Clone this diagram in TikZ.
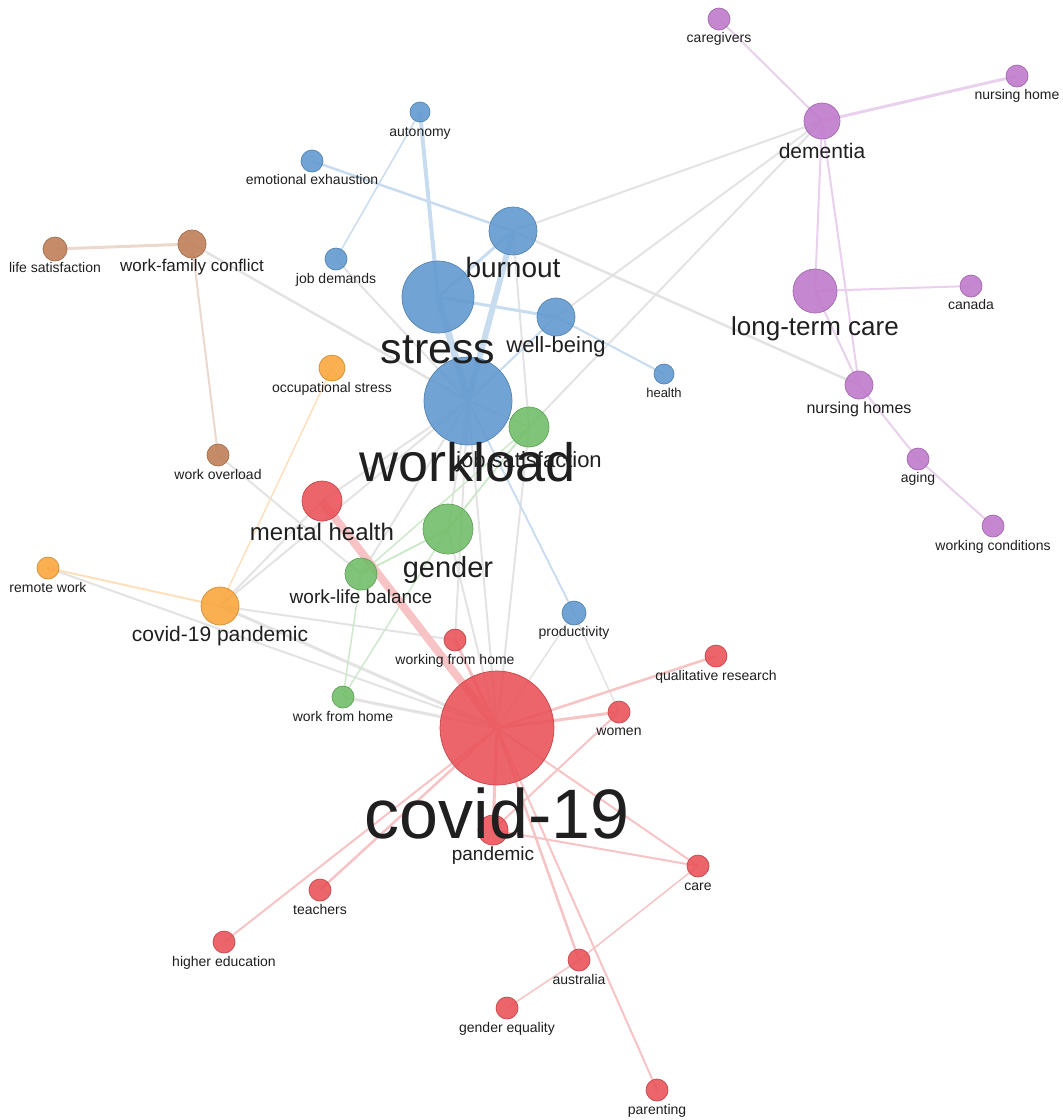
\documentclass[tikz,border=0pt]{standalone}
\usepackage{fontspec}
\setmainfont{Liberation Sans}
\definecolor{cblue}{RGB}{98,154,208}
\definecolor{cgreen}{RGB}{114,190,106}
\definecolor{corange}{RGB}{250,166,62}
\definecolor{cbrown}{RGB}{192,128,90}
\definecolor{cred}{RGB}{233,84,90}
\definecolor{cpurple}{RGB}{192,122,204}
\pgfdeclarelayer{edges}\pgfdeclarelayer{labels}
\pgfsetlayers{edges,main,labels}
\tikzset{kw/.style={circle,inner sep=0pt,draw=#1!85!black,line width=.7pt,fill=#1,fill opacity=.9},
 blu/.style={kw=cblue},grn/.style={kw=cgreen},org/.style={kw=corange},
 brn/.style={kw=cbrown},rd/.style={kw=cred},pur/.style={kw=cpurple},
 lab/.style={anchor=base,inner sep=0pt,text=black!88},
 lk/.style={draw=black!11},lkb/.style={draw=cblue!35},lkg/.style={draw=cgreen!35},
 lko/.style={draw=corange!35},lkn/.style={draw=cbrown!30},lkr/.style={draw=cred!35},
 lkp/.style={draw=cpurple!35}}

\begin{document}
\begin{tikzpicture}[x=1pt,y=-1pt]
\useasboundingbox (0,0) rectangle (1063,1120);
% clusters: name/x/y/radius/font size/label baseline/text
\foreach \n/\x/\y/\r/\fs/\ly/\t in {jsat/529/427/20/22/467/job satisfaction,
 gen/448/529/25/29/577/gender,wlb/361/574/16/19/603/work-life balance,
 wfh/343/697/11/14/721/work from home}{
 \node[grn,minimum size=2*\r pt](\n) at (\x,\y){};
 \begin{pgfonlayer}{labels}\node[lab,font=\fontsize{\fs}{\fs}\selectfont](\n-t) at (\x,\ly){\t};\end{pgfonlayer}}
\foreach \n/\x/\y/\r/\fs/\ly/\t in {occ/332/368/13/14/392/occupational stress,
 rem/48/568/11/14/592/remote work,cpan/220/606/19/21/641/covid-19 pandemic}{
 \node[org,minimum size=2*\r pt](\n) at (\x,\y){};
 \begin{pgfonlayer}{labels}\node[lab,font=\fontsize{\fs}{\fs}\selectfont](\n-t) at (\x,\ly){\t};\end{pgfonlayer}}
\foreach \n/\x/\y/\r/\fs/\ly/\t in {life/55/249/12/14/272/life satisfaction,
 wfc/192/244/14/17/271/work-family conflict,wov/218/455/11/14/479/work overload}{
 \node[brn,minimum size=2*\r pt](\n) at (\x,\y){};
 \begin{pgfonlayer}{labels}\node[lab,font=\fontsize{\fs}{\fs}\selectfont](\n-t) at (\x,\ly){\t};\end{pgfonlayer}}
\foreach \n/\x/\y/\r/\fs/\ly/\t in {cgv/719/19/11/14/42/caregivers,
 nhome/1017/76/11/14/99/nursing home,dem/822/121/18/21/158/dementia,
 ltc/815/291/22/26/335/long-term care,can/971/286/11/14/309/canada,
 nhs/859/385/14/16/413/nursing homes,age/918/459/11/14/482/aging,
 wcond/993/526/11/14/550/working conditions}{
 \node[pur,minimum size=2*\r pt](\n) at (\x,\y){};
 \begin{pgfonlayer}{labels}\node[lab,font=\fontsize{\fs}{\fs}\selectfont](\n-t) at (\x,\ly){\t};\end{pgfonlayer}}
\foreach \n/\x/\y/\r/\fs/\ly/\t in {aut/420/112/10/14/136/autonomy,
 emo/312/161/11/14/184/emotional exhaustion,burn/513/231/24/28/277/burnout,
 jobd/336/259/11/14/283/job demands,str/438/297/36/43/363/stress,
 wb/556/317/19/22/352/well-being,hlth/664/374/10/13/397/health,
 wl/468/401/44/54/481/workload,prod/574/613/12/14/636/productivity}{
 \node[blu,minimum size=2*\r pt](\n) at (\x,\y){};
 \begin{pgfonlayer}{labels}\node[lab,font=\fontsize{\fs}{\fs}\selectfont](\n-t) at (\x,\ly){\t};\end{pgfonlayer}}
\foreach \n/\x/\y/\r/\fs/\ly/\t in {mh/322/501/20/24/540/mental health,
 wfhm/455/640/11/14/664/working from home,qual/716/656/11/14/680/qualitative research,
 wom/619/712/11/14/735/women,cov/497/728/57/70/838/covid-19,pan/493/830/15/19/860/pandemic,
 tea/320/890/11/14/914/teachers,care/698/866/11/14/890/care,
 hied/224/942/11/14/966/higher education,aus/579/960/11/14/984/australia,
 geq/507/1008/11/14/1032/gender equality,par/657/1090/11/14/1114/parenting}{
 \node[rd,minimum size=2*\r pt](\n) at (\x,\y){};
 \begin{pgfonlayer}{labels}\node[lab,font=\fontsize{\fs}{\fs}\selectfont](\n-t) at (\x,\ly){\t};\end{pgfonlayer}}
% links
\begin{pgfonlayer}{edges}
\foreach \a/\b/\w in {jobd/wl/2,wfc/wl/2.5,burn/dem/2,burn/nhs/2.5,wb/dem/2,jsat/dem/2,
 burn/jsat/2,prod/cov/1.5,prod/wom/1.5,jsat/wl/2,gen/wl/2,wlb/wl/2,gen/cov/2,jsat/cov/2,
 wl/cov/2,wfh/cov/3,rem/cov/2,cpan/cov/3,cpan/mh/2,cpan/wl/2,cpan/wfhm/2,wov/wlb/2,
 mh/wl/2,wfhm/wl/2}
 \draw[lk,line width=\w pt](\a.center)--(\b.center);
\foreach \a/\b/\w in {aut/str/4,aut/jobd/1.5,emo/burn/2.5,burn/str/3,burn/wl/6,str/wl/7,
 str/wb/3,wb/hlth/2,wb/wl/2,wl/prod/2}
 \draw[lkb,line width=\w pt](\a.center)--(\b.center);
\foreach \a/\b/\w in {jsat/gen/2,wlb/gen/2,wlb/jsat/1.5,wlb/wfh/1.5,gen/wfh/1.5}
 \draw[lkg,line width=\w pt](\a.center)--(\b.center);
\foreach \a/\b/\w in {occ/cpan/1.5,rem/cpan/2}
 \draw[lko,line width=\w pt](\a.center)--(\b.center);
\foreach \a/\b/\w in {life/wfc/3,wfc/wov/2}
 \draw[lkn,line width=\w pt](\a.center)--(\b.center);
\foreach \a/\b/\w in {mh/cov/8,wfhm/cov/3,cov/qual/2.5,cov/wom/3,cov/care/2,pan/care/2,
 wom/pan/2,cov/tea/2.5,cov/hied/2,cov/aus/2.5,cov/par/2,care/aus/1.5,aus/geq/1.5,cov/pan/3}
 \draw[lkr,line width=\w pt](\a.center)--(\b.center);
\foreach \a/\b/\w in {cgv/dem/2,dem/nhome/3,dem/ltc/2,dem/nhs/2,ltc/can/2,ltc/nhs/2,
 nhs/age/2,age/wcond/2}
 \draw[lkp,line width=\w pt](\a.center)--(\b.center);
\end{pgfonlayer}
\end{tikzpicture}
\end{document}
